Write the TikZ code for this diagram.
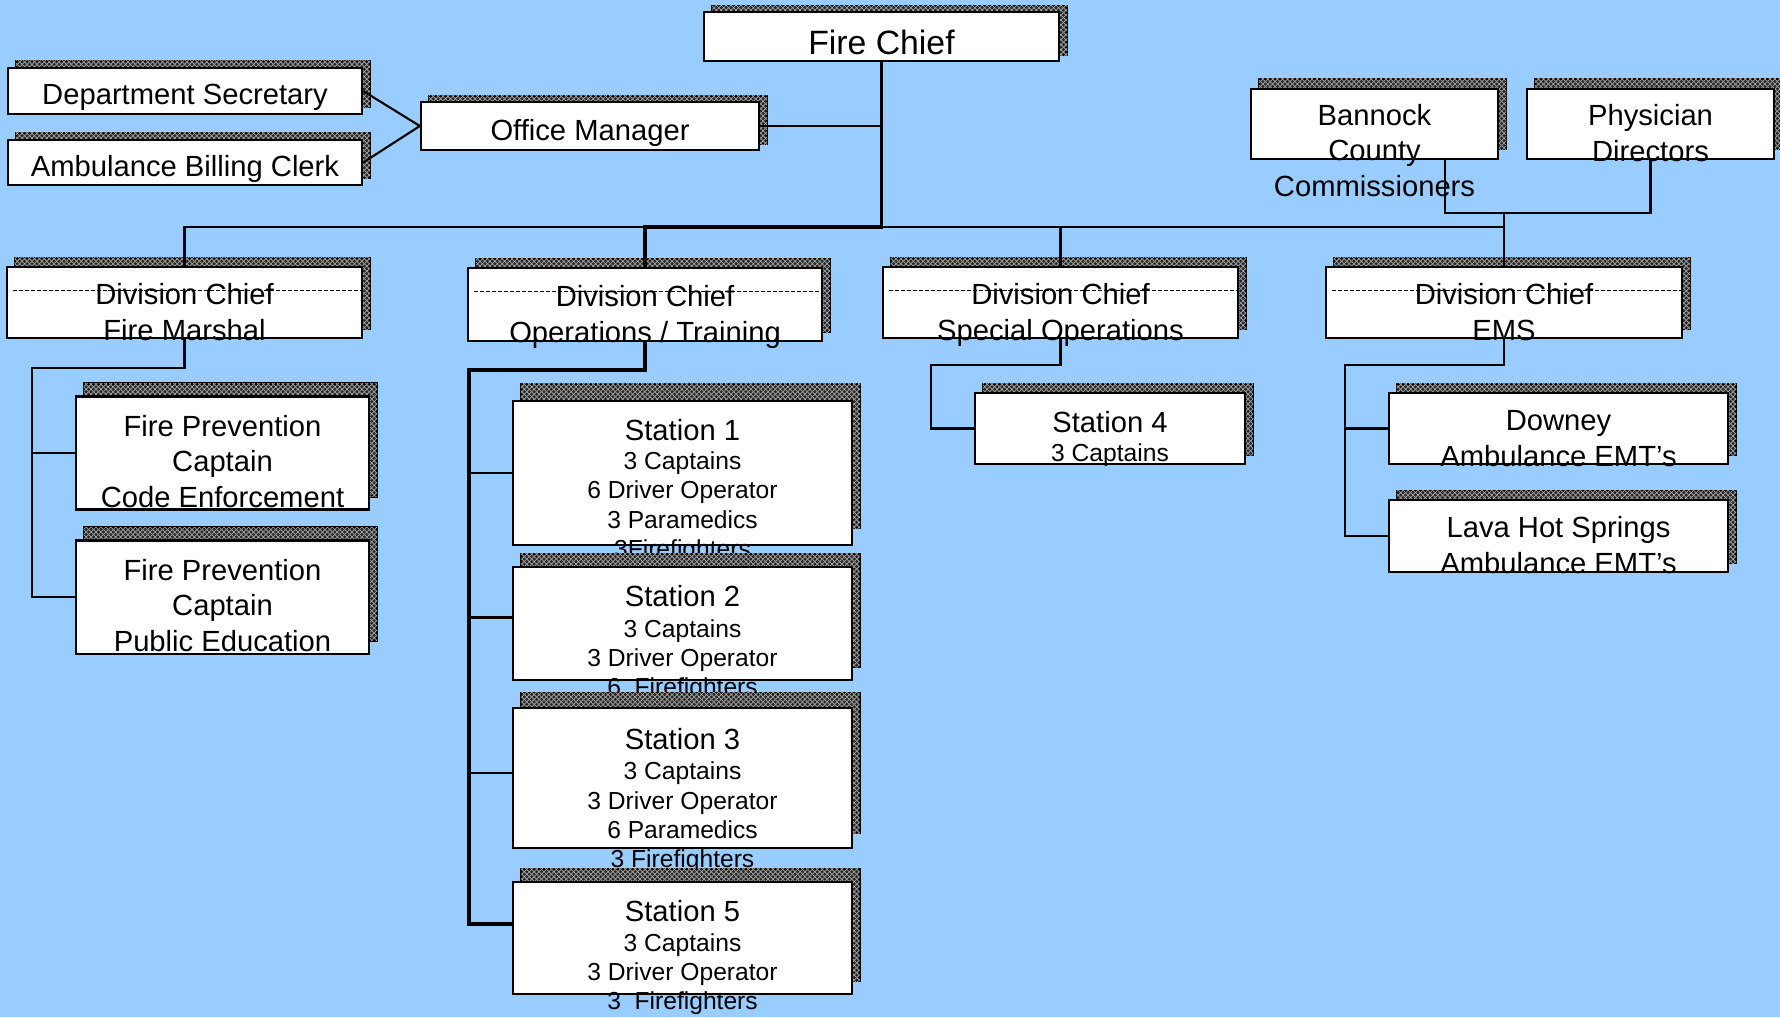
\documentclass[tikz,border=0pt]{standalone}
\usepackage{fontspec}
\setmainfont{Liberation Sans}
\usetikzlibrary{shadows,patterns}
\definecolor{skyblue}{RGB}{153,204,255}

% fine cross hatching for the box shadows
\pgfdeclarepatternformonly{finehatch}{\pgfpoint{-0.1pt}{-0.1pt}}{\pgfpoint{1.5pt}{1.5pt}}{\pgfpoint{1.4pt}{1.4pt}}{
  \pgfsetlinewidth{0.2pt}
  \pgfpathmoveto{\pgfpointorigin}\pgfpathlineto{\pgfpoint{1.4pt}{1.4pt}}
  \pgfpathmoveto{\pgfpoint{0pt}{1.4pt}}\pgfpathlineto{\pgfpoint{1.4pt}{0pt}}
  \pgfusepath{stroke}}

\begin{document}
\begin{tikzpicture}[x=0.01cm, y=-0.01cm, line width=0.6pt,
  orgbox/.style={draw=black, fill=white, inner sep=0pt,
    general shadow={shadow xshift=0.08cm, shadow yshift=#1, fill=black!85, draw=black},
    general shadow={shadow xshift=0.08cm, shadow yshift=#1, pattern=finehatch, pattern color=black!35}},
  orgbox/.default=0.09cm,
  txt/.style={font=\fontsize{8.3}{10}\selectfont, align=center, anchor=base, inner sep=0pt},
  bigtxt/.style={txt, font=\fontsize{9.6}{11.5}\selectfont},
  smalltxt/.style={txt, font=\fontsize{7}{8.25}\selectfont},
  divline/.style={line width=0.3pt, dash pattern=on 1.2pt off 0.5pt},
  trunk/.style={line width=1pt}]

  \useasboundingbox (0,0) rectangle (1780,1017);
  \fill[skyblue] (0,0) rectangle (1780,1017);

  % top row (text nodes sit on the baseline of their last line)
  \node[orgbox=0.06cm, minimum width=3.55cm, minimum height=0.49cm] (chief) at (881.5,36.5) {};
  \node[bigtxt] (chieftxt) at (881.5,54) {Fire Chief};

  \node[orgbox=0.07cm, minimum width=3.54cm, minimum height=0.46cm] (secretary) at (185,91) {};
  \node[txt] (secretarytxt) at (185,104.5) {Department Secretary};
  \node[orgbox=0.07cm, minimum width=3.54cm, minimum height=0.45cm] (billing) at (185,162.5) {};
  \node[txt] (billingtxt) at (185,176) {Ambulance Billing Clerk};
  \node[orgbox=0.06cm, minimum width=3.38cm, minimum height=0.48cm] (office) at (590,126) {};
  \node[txt] (officetxt) at (590,140) {Office Manager};

  \node[orgbox=0.1cm, minimum width=2.47cm, minimum height=0.7cm] (bannock) at (1374.5,124) {};
  \node[txt] (bannocktxt) at (1374.5,196) {Bannock\\County\\Commissioners};
  \node[orgbox=0.1cm, minimum width=2.47cm, minimum height=0.7cm] (physician) at (1650.5,124) {};
  \node[txt] (physiciantxt) at (1650.5,161) {Physician\\Directors};

  % division chiefs
  \node[orgbox, minimum width=3.55cm, minimum height=0.71cm] (divfm) at (184.5,302.5) {};
  \node[orgbox, minimum width=3.54cm, minimum height=0.73cm] (divops) at (645,304.5) {};
  \node[orgbox, minimum width=3.55cm, minimum height=0.71cm] (divspec) at (1060.5,302.5) {};
  \node[orgbox, minimum width=3.56cm, minimum height=0.71cm] (divems) at (1504,302.5) {};
  \foreach \d in {divfm,divops,divspec,divems}
    \draw[divline] ([shift={(7,25)}]\d.north west) -- ([shift={(0,25)}]\d.north east);
  \node[txt] (divfmtxt) at (184.5,340) {Division Chief\\Fire Marshal};
  \node[txt] (divopstxt) at (645,342) {Division Chief\\Operations / Training};
  \node[txt] (divspectxt) at (1060.5,340) {Division Chief\\Special Operations};
  \node[txt] (divemstxt) at (1504,340) {Division Chief\\EMS};

  % fire marshal
  \node[orgbox=0.13cm, minimum width=2.93cm, minimum height=1.13cm] (fpcode) at (222.5,453) {};
  \node[txt] (fpcodetxt) at (222.5,507) {Fire Prevention\\Captain\\Code Enforcement};
  \node[orgbox=0.13cm, minimum width=2.93cm, minimum height=1.13cm] (fppublic) at (222.5,597) {};
  \node[txt] (fppublictxt) at (222.5,651) {Fire Prevention\\Captain\\Public Education};

  % stations
  \node[orgbox=0.17cm, minimum width=3.39cm, minimum height=1.44cm] (st1) at (682.5,473) {};
  \node[txt] (st1txt) at (682.5,440) {Station 1};
  \node[smalltxt] (st1crew) at (682.5,557) {3 Captains\\6 Driver Operator\\3 Paramedics\\3Firefighters};
  \node[orgbox=0.13cm, minimum width=3.38cm, minimum height=1.13cm] (st2) at (682.5,623.5) {};
  \node[txt] (st2txt) at (682.5,606) {Station 2};
  \node[smalltxt] (st2crew) at (682.5,695) {3 Captains\\3 Driver Operator\\6\ \ Firefighters};
  \node[orgbox=0.15cm, minimum width=3.38cm, minimum height=1.4cm] (st3) at (682.5,778) {};
  \node[txt] (st3txt) at (682.5,749) {Station 3};
  \node[smalltxt] (st3crew) at (682.5,867) {3 Captains\\3 Driver Operator\\6 Paramedics\\3 Firefighters};
  \node[orgbox=0.13cm, minimum width=3.38cm, minimum height=1.12cm] (st5) at (682.5,938) {};
  \node[txt] (st5txt) at (682.5,921) {Station 5};
  \node[smalltxt] (st5crew) at (682.5,1009) {3 Captains\\3 Driver Operator\\3\ \ Firefighters};

  \node[orgbox, minimum width=2.7cm, minimum height=0.71cm] (st4) at (1110,428.5) {};
  \node[txt] (st4txt) at (1110,432) {Station 4};
  \node[smalltxt] (st4crew) at (1110,461) {3 Captains};

  % ems
  \node[orgbox, minimum width=3.39cm, minimum height=0.71cm] (downey) at (1558.5,428.5) {};
  \node[txt] (downeytxt) at (1558.5,466) {Downey\\Ambulance EMT’s};
  \node[orgbox, minimum width=3.39cm, minimum height=0.72cm] (lava) at (1558.5,536) {};
  \node[txt] (lavatxt) at (1558.5,573) {Lava Hot Springs\\Ambulance EMT’s};

  % lines
  \coordinate (bus) at (881.5,227);
  \draw[trunk] (chief.south) -- (bus) -| (divops.north);
  \draw (divfm.north) |- (bus) -| (divems.north);
  \draw (divspec.north) -- (divspec.north |- bus);
  \draw (office.east) -- (office.east -| chief.south);
  \draw (secretary.east) -- (office.west);
  \draw (billing.east) -- (office.west);

  \coordinate (council) at (1504,213);
  \draw ([xshift=0.705cm]bannock.south) |- (physician.south |- council) -- (physician.south);
  \draw (council) -- (divems.north);

  \coordinate (fmrail) at (32,368);
  \draw (divfm.south) |- (fmrail) |- (fppublic.west);
  \draw (fpcode.west) -| (fmrail);

  \coordinate (opsrail) at (469,370);
  \draw[trunk] (divops.south) |- (opsrail) |- ([yshift=0.14cm]st5.west);
  \draw (st1.west) -| (opsrail);
  \draw ([yshift=0.06cm]st2.west) -| (opsrail);
  \draw ([yshift=0.05cm]st3.west) -| (opsrail);

  \coordinate (specrail) at (931,365);
  \draw (divspec.south) |- (specrail) |- (st4.west);

  \coordinate (emsrail) at (1345,365);
  \draw (divems.south) |- (emsrail) |- (lava.west);
  \draw (downey.west) -| (emsrail);

\end{tikzpicture}
\end{document}
